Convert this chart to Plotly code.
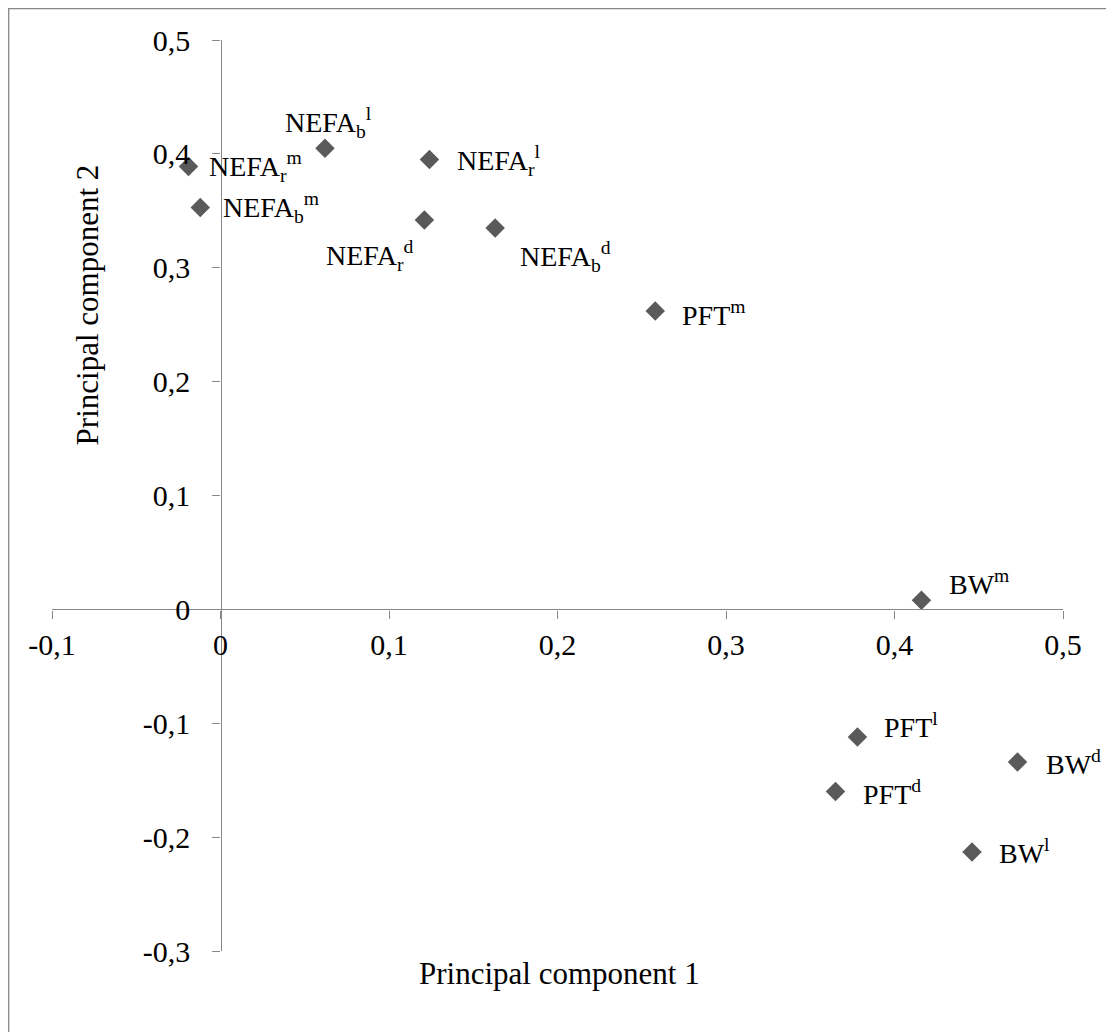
import plotly.graph_objects as go

# ---- data ----
labels = [
    "NEFA<sub>r</sub><sup>m</sup>",
    "NEFA<sub>b</sub><sup>m</sup>",
    "NEFA<sub>b</sub><sup>l</sup>",
    "NEFA<sub>r</sub><sup>l</sup>",
    "NEFA<sub>r</sub><sup>d</sup>",
    "NEFA<sub>b</sub><sup>d</sup>",
    "PFT<sup>m</sup>",
    "BW<sup>m</sup>",
    "PFT<sup>l</sup>",
    "BW<sup>d</sup>",
    "PFT<sup>d</sup>",
    "BW<sup>l</sup>",
]
pc1 = [-0.019, -0.012, 0.062, 0.124, 0.121, 0.163, 0.258, 0.416, 0.378, 0.473, 0.365, 0.446]
pc2 = [0.389, 0.353, 0.405, 0.395, 0.342, 0.335, 0.262, 0.008, -0.112, -0.134, -0.160, -0.213]

x_tickvals = [-0.1, 0.0, 0.1, 0.2, 0.3, 0.4, 0.5]
x_ticktext = ["-0,1", "0", "0,1", "0,2", "0,3", "0,4", "0,5"]
y_tickvals = [-0.3, -0.2, -0.1, 0.0, 0.1, 0.2, 0.3, 0.4, 0.5]
y_ticktext = ["-0,3", "-0,2", "-0,1", "0", "0,1", "0,2", "0,3", "0,4", "0,5"]
x_title = "Principal component 1"
y_title = "Principal component 2"

# ---- label placement styles (anchor, xshift px, yshift px) ----
label_anchor = ["left", "left", "center", "left", "right", "left",
                "left", "left", "left", "left", "left", "left"]
label_dx = [19, 21, 4, 26, -8, 23, 25, 26, 25, 26, 25, 25]
label_dy = [0, 0, 26, -1, -36, -29, -2, 18, 11, -1, -1, 0]

x_range = [x_tickvals[0], x_tickvals[-1]]
y_range = [y_tickvals[0], y_tickvals[-1]]
axis_color = "#878787"
marker_color = "#5a5a5a"
serif = "Liberation Serif, Times New Roman, serif"

W, H = 1114, 1032
ML, MT, PW, PH = 44, 32, 1011, 911
MR, MB = W - ML - PW, H - MT - PH

fig = go.Figure()
fig.add_trace(go.Scatter(
    x=pc1, y=pc2, mode="markers",
    marker=dict(symbol="diamond", size=15, color=marker_color),
    cliponaxis=False, showlegend=False, hoverinfo="skip",
))

for lab, xv, yv, anc, dx, dy in zip(labels, pc1, pc2, label_anchor, label_dx, label_dy):
    fig.add_annotation(x=xv, y=yv, text=lab, showarrow=False, xanchor=anc, yanchor="middle",
                       xshift=dx, yshift=dy,
                       font=dict(family=serif, size=28, color="black"))

# axes cross at zero
ypos = (0 - x_range[0]) / (x_range[1] - x_range[0])
xpos = (0 - y_range[0]) / (y_range[1] - y_range[0])

common = dict(showgrid=False, zeroline=False, showline=True, linecolor=axis_color,
              linewidth=1.3, ticks="outside", ticklen=8, tickcolor=axis_color, tickwidth=1.3,
              tickfont=dict(family=serif, size=30, color="black"))
fig.update_xaxes(range=x_range, tickvals=x_tickvals, ticktext=x_ticktext,
                 anchor="free", position=xpos, **common)
fig.update_yaxes(range=y_range, tickvals=y_tickvals, ticktext=y_ticktext,
                 anchor="free", position=ypos, ticklabelstandoff=16, **common)

fig.add_annotation(text=x_title, xref="paper", yref="paper", x=0.502, y=-0.0245,
                   xanchor="center", yanchor="middle", showarrow=False,
                   font=dict(family=serif, size=31, color="black"))
fig.add_annotation(text=y_title, xref="paper", yref="paper", x=0.0349, y=0.709,
                   xanchor="center", yanchor="middle", showarrow=False, textangle=-90,
                   font=dict(family=serif, size=31, color="black"))

# outer frame (starts at the figure's top-left corner)
fig.add_shape(type="rect", xref="paper", yref="paper",
              x0=-(ML - 0.7) / PW, x1=1.2, y0=-0.2, y1=1 + (MT - 0.7) / PH,
              line=dict(color=axis_color, width=1.3), fillcolor="rgba(0,0,0,0)", layer="below")

fig.update_layout(width=W, height=H, margin=dict(l=ML, r=MR, t=MT, b=MB, autoexpand=False),
                  paper_bgcolor="white", plot_bgcolor="white")

fig.write_html("out.html")
